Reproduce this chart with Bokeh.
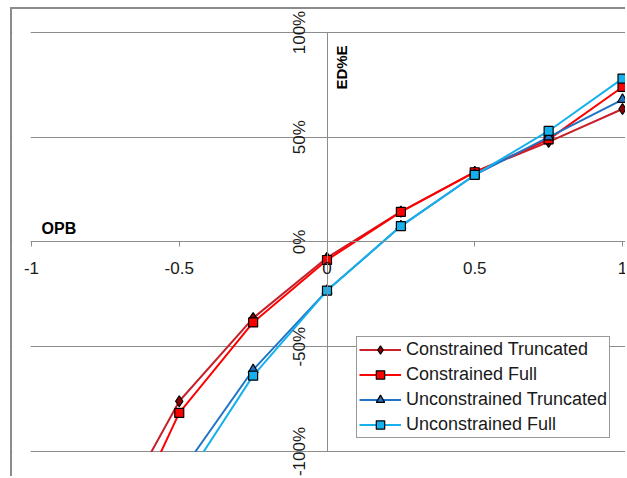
import math
from bokeh.plotting import figure
from bokeh.models import Range1d, FixedTicker, Label, Legend, LegendItem, BoxAnnotation
from bokeh.embed import file_html
from bokeh.resources import INLINE

# ---- data ----
opb_c = [-0.75, -0.5, -0.25, 0.0, 0.25, 0.5, 0.75, 1.0]
constrained_truncated = [-1.40, -0.760, -0.363, -0.075, 0.145, 0.335, 0.478, 0.635]
constrained_full = [-1.57, -0.816, -0.384, -0.086, 0.144, 0.333, 0.490, 0.740]
opb_u = [-0.5, -0.25, 0.0, 0.25, 0.5, 0.75, 1.0]
unconstrained_truncated = [-1.11, -0.610, -0.232, 0.076, 0.320, 0.501, 0.680]
unconstrained_full = [-1.18, -0.638, -0.232, 0.076, 0.320, 0.530, 0.780]

series_names = ["Constrained Truncated", "Constrained Full",
                "Unconstrained Truncated", "Unconstrained Full"]

x_ticks = [-1.0, -0.5, 0.0, 0.5, 1.0]
x_tick_labels = ["-1", "-0.5", "0", "0.5", "1"]
y_ticks = [-1.0, -0.5, 0.0, 0.5, 1.0]
y_tick_labels = ["-100%", "-50%", "0%", "50%", "100%"]

FONT = "Liberation Sans"
GRID = "#8c8c8c"
TICK_TEXT = "#1a1a1a"

p = figure(width=615, height=469,
           x_range=Range1d(-1.0643, 1.0169), y_range=Range1d(-1.1289, 1.1098),
           output_backend="svg", toolbar_location=None,
           min_border=0, min_border_left=0, min_border_right=0,
           min_border_top=0, min_border_bottom=0)
p.styles = {"border-left": "2px solid #8c8c8c", "border-top": "2px solid #8c8c8c",
            "margin-left": "10px", "margin-top": "7px"}
p.outline_line_color = None
p.background_fill_color = "white"
p.border_fill_color = "white"

# axes crossing at the origin
p.xaxis.fixed_location = 0
p.yaxis.fixed_location = 0
p.xaxis.bounds = (-1.0, 1.0)
p.yaxis.bounds = (-1.0, 1.0)
p.xaxis.ticker = FixedTicker(ticks=x_ticks)
p.yaxis.ticker = FixedTicker(ticks=y_ticks)
for ax in (p.xaxis, p.yaxis):
    ax.axis_line_color = GRID
    ax.axis_line_width = 1
    ax.minor_tick_line_color = None
    ax.major_label_text_color = None   # tick labels drawn below as Labels
p.xaxis.major_tick_line_color = GRID
p.xaxis.major_tick_out = 5
p.xaxis.major_tick_in = 0
p.yaxis.major_tick_line_color = None
p.yaxis.major_tick_out = 0
p.yaxis.major_tick_in = 0

p.xgrid.grid_line_color = None
p.ygrid.ticker = FixedTicker(ticks=y_ticks)
p.ygrid.grid_line_color = GRID
p.ygrid.grid_line_width = 1

styles = [
    dict(x=opb_c, y=constrained_truncated, line="#C8202A", marker="diamond",
         fill="#8B0000", size=11),
    dict(x=opb_c, y=constrained_full, line="#FF0000", marker="square",
         fill="#FF0000", size=9),
    dict(x=opb_u, y=unconstrained_truncated, line="#1F72C4", marker="triangle",
         fill="#1F72C4", size=10),
    dict(x=opb_u, y=unconstrained_full, line="#16B0EC", marker="square",
         fill="#16B0EC", size=9),
]

items = []
for name, s in zip(series_names, styles):
    r1 = p.line(s["x"], s["y"], line_color=s["line"], line_width=2)
    r2 = p.scatter(s["x"], s["y"], marker=s["marker"], size=s["size"],
                   fill_color=s["fill"], line_color="black", line_width=1.2)
    items.append(LegendItem(label=name, renderers=[r1, r2]))

# the plot area ends at -1 on both axes: mask what lies beyond it
p.add_layout(BoxAnnotation(top=-1.003, fill_color="white", fill_alpha=1,
                           line_color=None, level="guide"))
p.add_layout(BoxAnnotation(right=-1.003, fill_color="white", fill_alpha=1,
                           line_color=None, level="guide"))

# tick labels, placed at the tick values
for t, lab in zip(x_ticks, x_tick_labels):
    p.add_layout(Label(x=t, y=0, text=lab, y_offset=-26, text_font=FONT,
                       text_font_size="17px", text_color=TICK_TEXT,
                       text_align="center", text_baseline="middle"))
for t, lab in zip(y_ticks, y_tick_labels):
    p.add_layout(Label(x=0, y=t, text=lab, x_offset=-28, angle=math.pi / 2,
                       text_font=FONT, text_font_size="17px", text_color=TICK_TEXT,
                       text_align="center", text_baseline="alphabetic"))

legend = Legend(items=items, location=(344, 40))
legend.label_text_font = FONT
legend.label_text_font_size = "18px"
legend.label_text_color = TICK_TEXT
legend.glyph_width = 42
legend.glyph_height = 21
legend.label_height = 21
legend.label_standoff = 5
legend.padding = 2
legend.spacing = 4
legend.margin = 0
legend.border_line_color = "#333333"
legend.border_line_width = 1
legend.background_fill_color = "white"
legend.background_fill_alpha = 1
p.add_layout(legend, "center")

p.add_layout(Label(x=-0.966, y=0.064, text="OPB", text_font=FONT,
                   text_font_style="bold", text_font_size="16px",
                   text_align="left", text_baseline="middle", text_color="black"))
p.add_layout(Label(x=0.049, y=0.833, text="ED%E", text_font=FONT,
                   text_font_style="bold", text_font_size="15px", angle=math.pi / 2,
                   text_align="center", text_baseline="middle", text_color="black"))

open("out.html", "w").write(file_html(p, INLINE))
